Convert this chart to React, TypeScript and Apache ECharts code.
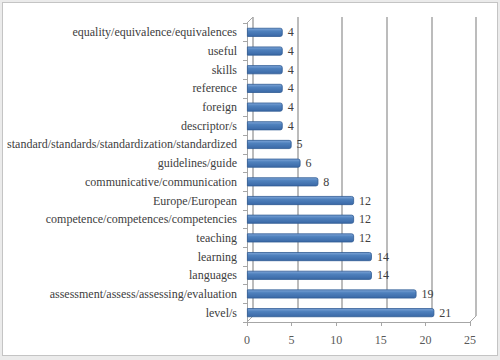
import React, { useEffect, useRef } from "react";
import * as echarts from "echarts";

const categories = [
  "level/s",
  "assessment/assess/assessing/evaluation",
  "languages",
  "learning",
  "teaching",
  "competence/competences/competencies",
  "Europe/European",
  "communicative/communication",
  "guidelines/guide",
  "standard/standards/standardization/standardized",
  "descriptor/s",
  "foreign",
  "reference",
  "skills",
  "useful",
  "equality/equivalence/equivalences",
];
const values = [21, 19, 14, 14, 12, 12, 12, 8, 6, 5, 4, 4, 4, 4, 4, 4];
const xTicks = [0, 5, 10, 15, 20, 25];

const FONT = "Liberation Serif";

export default function App() {
  const ref = useRef<HTMLDivElement>(null);
  useEffect(() => {
    if (!ref.current) return;
    const chart = echarts.init(ref.current, null, { renderer: "svg", width: 494, height: 352 });
    const ox = 3, oy = 3; // container offset
    const fl = 247 - ox, fr = 470 - ox, ft = 23 - oy, fb = 322 - oy;
    const dx = 6, dy = 6;
    chart.setOption({
      animation: false,
      backgroundColor: "#ffffff",
      textStyle: { fontFamily: FONT },
      grid: [
        { left: fl, right: 494 - fr, top: ft, bottom: 352 - fb, containLabel: false },
        { left: fl + dx, right: 494 - fr - dx, top: ft - dy, bottom: 352 - fb + dy, containLabel: false },
      ],
      xAxis: [
        {
          type: "value",
          gridIndex: 0,
          min: xTicks[0],
          max: xTicks[xTicks.length - 1],
          interval: 5,
          axisLine: { show: true, lineStyle: { color: "#a6a6a6", width: 1 } },
          axisTick: { show: true, length: 4, lineStyle: { color: "#a6a6a6" } },
          axisLabel: { color: "#595959", fontFamily: FONT, fontSize: 12, margin: 12 },
          splitLine: { show: false },
        },
        {
          type: "value",
          gridIndex: 1,
          min: xTicks[0],
          max: xTicks[xTicks.length - 1],
          interval: 5,
          axisLine: { show: false },
          axisTick: { show: false },
          axisLabel: { show: false },
          splitLine: { show: true, lineStyle: { color: "#a6a6a6", width: 1.5 } },
        },
      ],
      yAxis: [
        {
          type: "category",
          gridIndex: 0,
          data: categories,
          axisLine: { show: true, lineStyle: { color: "#a6a6a6", width: 1 } },
          axisTick: { show: true, length: 4, lineStyle: { color: "#a6a6a6" } },
          axisLabel: { color: "#404040", fontFamily: FONT, fontSize: 12, margin: 10 },
        },
        {
          type: "category",
          gridIndex: 1,
          data: categories,
          show: false,
        },
      ],
      series: [
        {
          type: "bar",
          xAxisIndex: 0,
          yAxisIndex: 0,
          data: values,
          barWidth: 9,
          itemStyle: {
            color: new echarts.graphic.LinearGradient(0, 0, 0, 1, [
              { offset: 0, color: "#7fa6d9" },
              { offset: 0.35, color: "#4f81bd" },
              { offset: 1, color: "#3a68a6" },
            ]),
            borderColor: "#2f5a93",
            borderWidth: 0.8,
            borderRadius: [0, 2, 2, 0],
          },
          label: {
            show: true,
            position: "right",
            distance: 5,
            color: "#404040",
            fontFamily: FONT,
            fontSize: 12,
          },
        },
      ],
      graphic: [
        { type: "line", shape: { x1: fl, y1: ft, x2: fl + dx, y2: ft - dy }, style: { stroke: "#a6a6a6", lineWidth: 1 } },
        { type: "line", shape: { x1: fr, y1: fb, x2: fr + dx, y2: fb - dy }, style: { stroke: "#a6a6a6", lineWidth: 1 } },
        { type: "line", shape: { x1: fl, y1: fb, x2: fl + dx, y2: fb - dy }, style: { stroke: "#a6a6a6", lineWidth: 1 } },
      ],
    });
    return () => chart.dispose();
  }, []);
  return (
    <div style={{ position: "absolute", left: 0, top: 0, width: 500, height: 360, background: "#ebebeb" }}>
      <div
        style={{
          position: "absolute",
          left: 2,
          top: 2,
          width: 494,
          height: 352,
          border: "1px solid #c4c4c4",
          background: "#fff",
        }}
      >
        <div ref={ref} style={{ width: 494, height: 352 }} />
      </div>
    </div>
  );
}
